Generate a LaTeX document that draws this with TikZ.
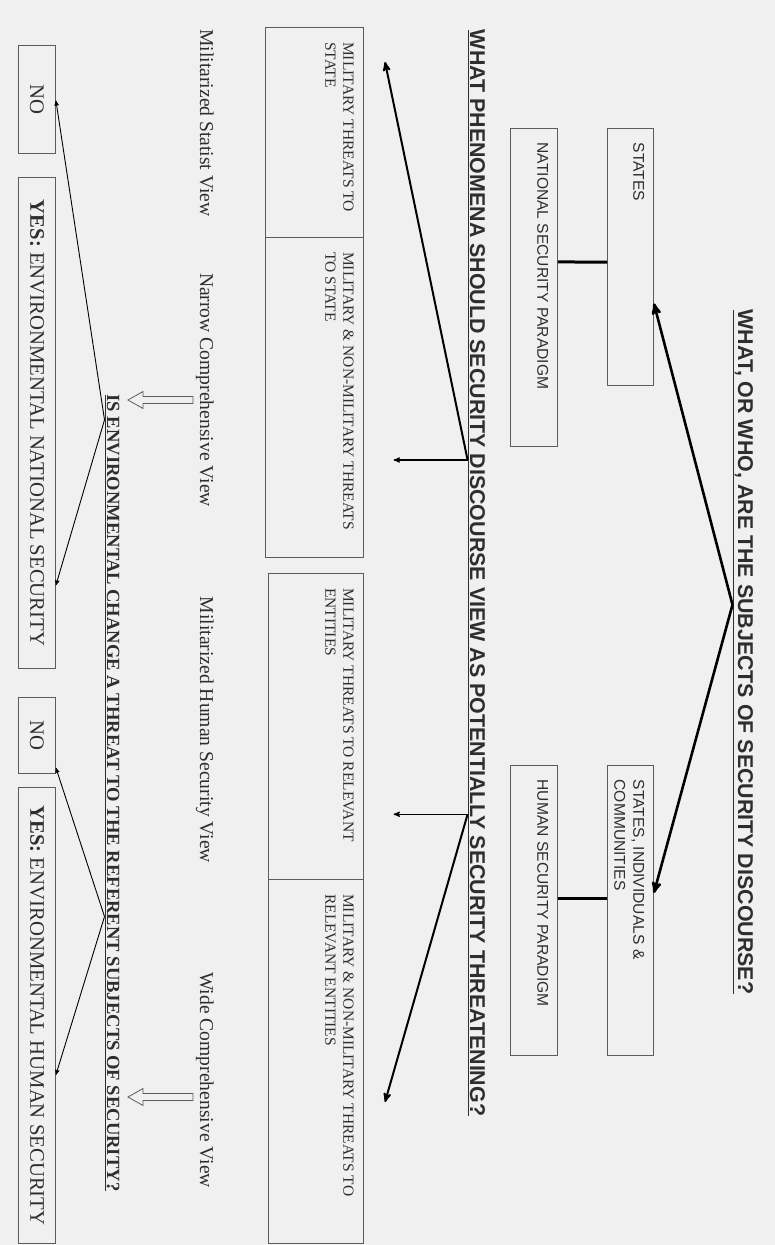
\documentclass[tikz,border=0pt]{standalone}
\usepackage{fontspec}
\setmainfont{Liberation Serif}
\newfontfamily\headfont{Liberation Sans}
\usetikzlibrary{arrows,shapes,calc}
\definecolor{paper}{HTML}{F0F0F0}
\definecolor{ink}{HTML}{2E2E2E}
\definecolor{rim}{HTML}{5C5C5C}
\tikzstyle{bx} = [rectangle, draw=rim, line width=0.9pt, inner sep=0pt, anchor=south west]
\tikzstyle{sanslbl} = [anchor=north west, align=left, text=ink, inner xsep=14.5pt,
    inner ysep=9.5pt, font=\headfont\fontsize{15.6}{19}\selectfont]
\tikzstyle{seriflbl} = [anchor=north west, align=left, text=ink, inner xsep=15pt,
    inner ysep=10pt, font=\fontsize{15.5}{18}\selectfont]
\tikzstyle{answer} = [bx, text=ink, minimum height=37, font=\fontsize{20.7}{24}\selectfont]
\tikzstyle{question} = [text=ink, inner sep=0pt, anchor=base,
    font=\headfont\bfseries\fontsize{21.4}{25}\selectfont]
\tikzstyle{viewlbl} = [text=ink, inner sep=0pt, anchor=base, font=\fontsize{19.6}{23}\selectfont]
\tikzstyle{heavy} = [->, line width=2.6pt, black]
\tikzstyle{medium} = [->, line width=2pt, black]
\tikzstyle{light} = [->, line width=1.2pt, black]
\tikzstyle{fine} = [->, line width=0.9pt, black]
\tikzstyle{hollow} = [draw=rim, line width=0.8pt, fill=paper]

\begin{document}
\begin{tikzpicture}[rotate=-90,transform shape,x=1pt,y=1pt,>=stealth']
  \fill[paper] (0,0) rectangle (1245,775);

  % the three questions
  \node[question] (q1) at (652,738)
    {\underline{WHAT, OR WHO, ARE THE SUBJECTS OF SECURITY DISCOURSE?}};
  \node[question] (q2) at (573,470)
    {\underline{WHAT PHENOMENA SHOULD SECURITY DISCOURSE VIEW AS POTENTIALLY SECURITY THREATENING?}};
  \node[question,font=\bfseries\fontsize{18.6}{22}\selectfont] (q3) at (793,107)
    {\underline{IS ENVIRONMENTAL CHANGE A THREAT TO THE REFERENT SUBJECTS OF SECURITY?}};

  % subjects and paradigms
  \node[bx,minimum width=257,minimum height=46,
        label={[sanslbl]north west:STATES}] (st) at (128,607) {};
  \node[bx,minimum width=290,minimum height=46,
        label={[sanslbl]north west:STATES, INDIVIDUALS \&\\COMMUNITIES}] (sic) at (765,607) {};
  \node[bx,minimum width=318,minimum height=47,
        label={[sanslbl]north west:NATIONAL SECURITY PARADIGM}] (nsp) at (128,510) {};
  \node[bx,minimum width=290,minimum height=47,
        label={[sanslbl]north west:HUMAN SECURITY PARADIGM}] (hsp) at (765,510) {};

  % threats
  \node[bx,minimum width=210,minimum height=98,
        label={[seriflbl]north west:MILITARY THREATS TO\\STATE}] (ms) at (27,265) {};
  \node[bx,minimum width=320,minimum height=98,
        label={[seriflbl]north west:MILITARY \& NON-MILITARY THREATS\\TO STATE}] (mns) at (237,265) {};
  \node[bx,minimum width=306,minimum height=95,
        label={[seriflbl]north west:MILITARY THREATS TO RELEVANT\\ENTITIES}] (mre) at (573,268) {};
  \node[bx,minimum width=364,minimum height=95,
        label={[seriflbl]north west:MILITARY \& NON-MILITARY THREATS TO\\RELEVANT ENTITIES}] (mnre) at (879,268) {};

  % views
  \node[viewlbl] (vs) at (123,200) {Militarized Statist View};
  \node[viewlbl] (vn) at (390,200) {Narrow Comprehensive View};
  \node[viewlbl] (vh) at (730,200) {Militarized Human Security View};
  \node[viewlbl] (vw) at (1080,200) {Wide Comprehensive View};

  % answers
  \node[answer,minimum width=108] (no1) at (45,18) {NO};
  \node[answer,minimum width=491] (yes1) at (177,18)
    {\textbf{YES:} ENVIRONMENTAL NATIONAL SECURITY};
  \node[answer,minimum width=76] (no2) at (697,18) {NO};
  \node[answer,minimum width=456] (yes2) at (787,18)
    {\textbf{YES:} ENVIRONMENTAL HUMAN SECURITY};

  % branching points
  \coordinate (a1) at ($(q1.south west)!0.431!(q1.south east)$);
  \coordinate (a2) at ($(q2.south west)!0.396!(q2.south east)$);
  \coordinate (a3) at ($(q2.south west)!0.722!(q2.south east)$);
  \coordinate (b1) at ($(q3.south west)!0.032!(q3.south east)$);
  \coordinate (b2) at ($(q3.south west)!0.655!(q3.south east)$);
  \coordinate (e1) at (62,385);
  \coordinate (e4) at (1102,385);
  \path (a2) ++(0,-74) coordinate (e2);
  \path (a3) ++(0,-74) coordinate (e3);

  \draw[heavy] (a1) -- ($(st.north west)!0.68!(st.north east)$);
  \draw[heavy] (a1) -- ($(sic.north west)!0.44!(sic.north east)$);
  \draw[line width=3pt] ($(st.south west)!0.52!(st.south east)$)
    -- ($(nsp.north west)!0.42!(nsp.north east)$);
  \draw[line width=3pt] ($(sic.south west)!0.46!(sic.south east)$)
    -- ($(hsp.north west)!0.46!(hsp.north east)$);

  \draw[medium] (a2) -- (e1);
  \draw[light] (a2) -- (e2);
  \draw[light] (a3) -- (e3);
  \draw[medium] (a3) -- (e4);

  \draw[fine] (b1) -- ($(no1.north west)!0.51!(no1.north east)$);
  \draw[fine] (b1) -- ($(yes1.north west)!0.83!(yes1.north east)$);
  \draw[fine] (b2) -- ($(no2.north west)!0.92!(no2.north east)$);
  \draw[fine] (b2) -- ($(yes2.north west)!0.63!(yes2.north east)$);

  % hollow arrows
  \coordinate (h1) at (400,193);
  \coordinate (h2) at (1097,193);
  \foreach \h in {h1,h2}
    \draw[hollow] (\h) ++(-3.5,0) -- ++(0,-50) -- ++(-5,0) -- ++(8.5,-15)
      -- ++(8.5,15) -- ++(-5,0) -- ++(0,50) -- cycle;
\end{tikzpicture}
\end{document}
